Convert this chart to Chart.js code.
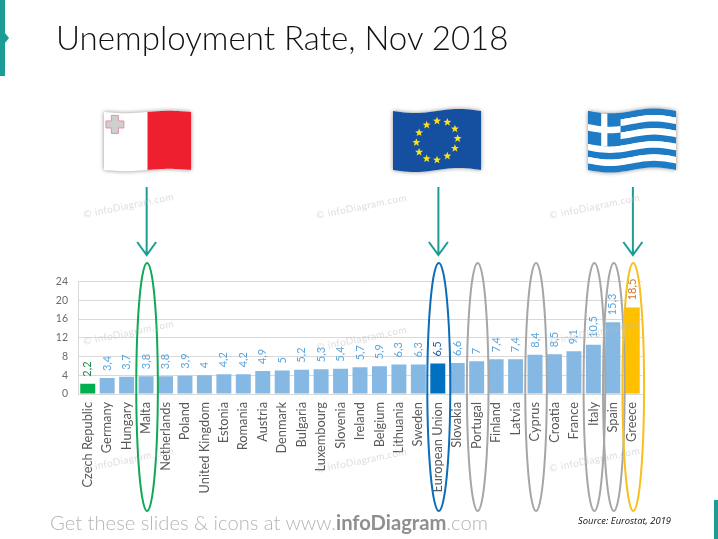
<!DOCTYPE html>
<html>
<head>
<meta charset="utf-8">
<title>Unemployment Rate, Nov 2018</title>
<script src="https://cdn.jsdelivr.net/npm/chart.js@4"></script>
<style>
  html, body { margin: 0; padding: 0; background: #fff; overflow: hidden; }
  #wrap { position: relative; width: 718px; height: 539px; font-family: Lato, sans-serif; }
  canvas { position: absolute; left: 0; top: 0; }
  .txt { position: absolute; white-space: nowrap; }
  #title { left: 56px; top: 17px; font-size: 33.1px; font-weight: 300; color: #111; }
  #footer { left: 50px; top: 510px; font-size: 20.2px; font-weight: 300; color: #b5b5b5; }
  #footer b { font-weight: 700; color: #8f8f8f; }
  #source { left: 578px; top: 514px; font-size: 9.4px; font-style: italic; color: #111; font-family: "Open Sans", sans-serif; }
</style>
</head>
<body>
<div id="wrap">
  <canvas id="chart" width="718" height="539"></canvas>
  <div class="txt" id="title">Unemployment Rate, Nov 2018</div>
  <div class="txt" id="footer">Get these slides &amp; icons at www.<b>infoDiagram</b>.com</div>
  <div class="txt" id="source">Source: Eurostat, 2019</div>
</div>
<script>
const categories = ['Czech Republic', 'Germany', 'Hungary', 'Malta', 'Netherlands', 'Poland', 'United Kingdom', 'Estonia', 'Romania', 'Austria', 'Denmark', 'Bulgaria', 'Luxembourg', 'Slovenia', 'Ireland', 'Belgium', 'Lithuania', 'Sweden', 'European Union', 'Slovakia', 'Portugal', 'Finland', 'Latvia', 'Cyprus', 'Croatia', 'France', 'Italy', 'Spain', 'Greece'];
const rates = [2.2, 3.4, 3.7, 3.8, 3.8, 3.9, 4, 4.2, 4.2, 4.9, 5, 5.2, 5.3, 5.4, 5.7, 5.9, 6.3, 6.3, 6.5, 6.6, 7, 7.4, 7.4, 8.4, 8.5, 9.1, 10.5, 15.3, 18.5];
const yTicks = [0, 4, 8, 12, 16, 20, 24];

const barColors = { 'Czech Republic': '#00b050', 'European Union': '#0070c0', 'Greece': '#ffc000' };
const labelColors = { 'Czech Republic': '#1c8a4a', 'European Union': '#1f5f9e', 'Greece': '#c9772a' };
const ringColors = { 'Malta': '#12a85a', 'Portugal': '#a6a6a6', 'Cyprus': '#a6a6a6', 'Italy': '#a6a6a6', 'Spain': '#a6a6a6', 'European Union': '#0b6cb8', 'Greece': '#f7c01c' };
const arrowTargets = ['Malta', 'European Union', 'Greece'];

const TEAL = '#1b9c94';

// wavy flag helpers: u,v are 0..1 inside the flag
function flagPoint(f, u, v) {
    return [f.x + u * f.w, f.y + v * f.h + f.wave * Math.sin(2 * Math.PI * u)];
}
function flagRect(ctx, f, u0, v0, u1, v1, color) {
    ctx.beginPath();
    for (let i = 0; i <= 24; i++) {
        const p = flagPoint(f, u0 + (u1 - u0) * i / 24, v0);
        ctx.lineTo(p[0], p[1]);
    }
    for (let i = 24; i >= 0; i--) {
        const p = flagPoint(f, u0 + (u1 - u0) * i / 24, v1);
        ctx.lineTo(p[0], p[1]);
    }
    ctx.closePath();
    ctx.fillStyle = color;
    ctx.fill();
}
function flagShadow(ctx, f) {
    ctx.save();
    ctx.shadowColor = 'rgba(0,0,0,0.45)';
    ctx.shadowBlur = 4;
    flagRect(ctx, f, 0, 0, 1, 1, '#fff');
    ctx.restore();
}
function star(ctx, cx, cy, r) {
    ctx.beginPath();
    for (let i = 0; i < 10; i++) {
        const a = -Math.PI / 2 + i * Math.PI / 5;
        const rr = i % 2 ? r * 0.42 : r;
        ctx.lineTo(cx + rr * Math.cos(a), cy + rr * Math.sin(a));
    }
    ctx.closePath();
    ctx.fillStyle = '#ffe11a';
    ctx.fill();
}
function drawMalta(ctx) {
    const f = { x: 104, y: 112, w: 87, h: 58, wave: 1.2 };
    flagShadow(ctx, f);
    flagRect(ctx, f, 0.5, 0, 1, 1, '#ee2030');
    const c = flagPoint(f, 0.125, 0.2);
    const a = 3.5, b = 9;
    ctx.beginPath();
    [[-a, -b], [a, -b], [a, -a], [b, -a], [b, a], [a, a], [a, b], [-a, b], [-a, a], [-b, a], [-b, -a], [-a, -a]].forEach(p => {
        ctx.lineTo(c[0] + p[0], c[1] + p[1]);
    });
    ctx.closePath();
    ctx.fillStyle = '#cfcfcf';
    ctx.strokeStyle = '#e58a96';
    ctx.lineWidth = 0.9;
    ctx.fill();
    ctx.stroke();
}
function drawEU(ctx) {
    const f = { x: 393, y: 111, w: 88, h: 59, wave: 2 };
    flagShadow(ctx, f);
    flagRect(ctx, f, 0, 0, 1, 1, '#14509f');
    for (let i = 0; i < 12; i++) {
        const a = i * Math.PI / 6;
        const p = flagPoint(f, 0.5 + 0.235 * Math.cos(a), 0.5 + 0.33 * Math.sin(a));
        star(ctx, p[0], p[1], 4.2);
    }
}
function drawGreece(ctx) {
    const f = { x: 588, y: 111, w: 88, h: 59, wave: 2.6 };
    flagShadow(ctx, f);
    for (let i = 0; i < 9; i++) {
        flagRect(ctx, f, 0, i / 9, 1, (i + 1) / 9, i % 2 ? '#fff' : '#1f7cc4');
    }
    flagRect(ctx, f, 0, 0, 0.37, 5 / 9, '#1f7cc4');
    flagRect(ctx, f, 0.15, 0, 0.22, 5 / 9, '#fff');
    flagRect(ctx, f, 0, 2 / 9, 0.37, 3 / 9, '#fff');
}

const overlayPlugin = {
    id: 'overlay',
    afterDatasetsDraw(chart) {
        const ctx = chart.ctx;
        const xs = chart.scales.x;
        const ys = chart.scales.y;

        // value labels, decimal comma as on the slide
        ctx.save();
        ctx.font = '11px Lato, sans-serif';
        ctx.textAlign = 'left';
        ctx.textBaseline = 'middle';
        categories.forEach((name, i) => {
            const x = xs.getPixelForValue(i);
            const y = ys.getPixelForValue(rates[i]) - 7;
            if (name === 'Greece') {
                ctx.fillStyle = '#fff';
                ctx.fillRect(x - 8, ys.top - 2, 16, ys.getPixelForValue(rates[i]) - ys.top + 2);
            }
            ctx.save();
            ctx.translate(x, y);
            ctx.rotate(-Math.PI / 2);
            ctx.fillStyle = labelColors[name] || '#5ba6de';
            ctx.fillText(String(rates[i]).replace('.', ','), 0, 0);
            ctx.restore();
        });
        ctx.restore();

        drawMalta(ctx);
        drawEU(ctx);
        drawGreece(ctx);

        // arrows from flags down to the ringed bars
        ctx.save();
        ctx.strokeStyle = TEAL;
        ctx.lineWidth = 2;
        arrowTargets.forEach(name => {
            const x = xs.getPixelForValue(categories.indexOf(name)) + 0.6;
            ctx.beginPath();
            ctx.moveTo(x, 187);
            ctx.lineTo(x, 255);
            ctx.moveTo(x - 9.5, 242);
            ctx.lineTo(x, 255);
            ctx.lineTo(x + 9.5, 242);
            ctx.stroke();
        });
        ctx.restore();

        // rings around the highlighted columns
        ctx.save();
        ctx.lineWidth = 2;
        Object.keys(ringColors).forEach(name => {
            const x = xs.getPixelForValue(categories.indexOf(name)) + 1;
            ctx.strokeStyle = ringColors[name];
            ctx.beginPath();
            ctx.ellipse(x, 387, name === 'European Union' ? 11.5 : 10.8, 124, 0, 0, Math.PI * 2);
            ctx.stroke();
        });
        ctx.restore();

        // faint watermark
        ctx.save();
        ctx.font = '10px Lato, sans-serif';
        ctx.fillStyle = 'rgba(190,190,190,0.5)';
        ctx.letterSpacing = '0.4px';
        [[84, 218], [317, 219], [550, 219], [84, 345], [317, 351], [550, 345], [84, 472], [317, 473], [550, 472]].forEach(p => {
            ctx.save();
            ctx.translate(p[0], p[1]);
            ctx.rotate(-0.2);
            ctx.fillText('© infoDiagram.com', 0, 0);
            ctx.restore();
        });
        ctx.restore();

        // teal slide decorations
        ctx.save();
        ctx.fillStyle = TEAL;
        ctx.beginPath();
        ctx.moveTo(0, 0);
        ctx.lineTo(5, 0);
        ctx.lineTo(5, 33);
        ctx.lineTo(9, 38);
        ctx.lineTo(5, 43);
        ctx.lineTo(5, 76);
        ctx.lineTo(0, 76);
        ctx.closePath();
        ctx.fill();
        ctx.fillRect(714, 500, 4, 39);
        ctx.restore();
    }
};

new Chart(document.getElementById('chart'), {
    type: 'bar',
    data: {
        labels: categories,
        datasets: [{
            data: rates,
            backgroundColor: categories.map(c => barColors[c] || '#85b9e3'),
            categoryPercentage: 1,
            barPercentage: 0.77
        }]
    },
    options: {
        responsive: false,
        animation: false,
        devicePixelRatio: 1,
        layout: { padding: { left: 50, right: 76, top: 281.5, bottom: 0 } },
        plugins: { legend: { display: false }, title: { display: false }, tooltip: { enabled: false } },
        scales: {
            x: {
                grid: { display: false },
                border: { color: '#d9d9d9' },
                ticks: {
                    minRotation: 90,
                    maxRotation: 90,
                    autoSkip: false,
                    padding: 0,
                    color: '#595959',
                    font: { family: 'Lato, sans-serif', size: 12.8 }
                },
                afterFit(scale) { scale.height = 145; }
            },
            y: {
                min: 0,
                max: 24,
                afterBuildTicks(scale) { scale.ticks = yTicks.map(v => ({ value: v })); },
                grid: { color: '#d9d9d9', drawTicks: false },
                border: { color: '#d9d9d9' },
                ticks: {
                    padding: 10,
                    color: '#6b6b6b',
                    font: { family: 'Lato, sans-serif', size: 10.5 }
                },
                afterFit(scale) { scale.width = 28; }
            }
        }
    },
    plugins: [overlayPlugin]
});
</script>
</body>
</html>
